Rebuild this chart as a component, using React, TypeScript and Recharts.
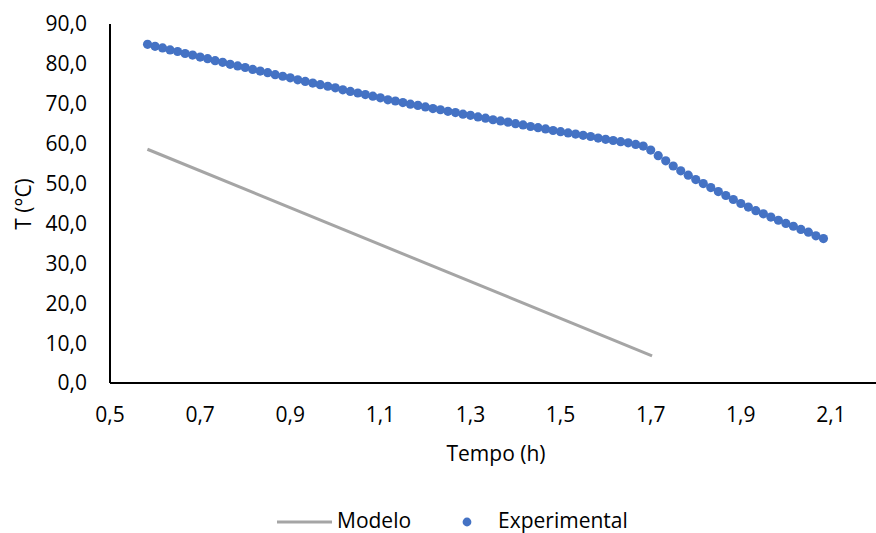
import React from 'react'
import { ScatterChart, Scatter, XAxis, YAxis } from 'recharts'

document.body.style.margin = '0'

// tempo experimental, em minutos (1 leitura por minuto)
const minutosExp = [
  35, 36, 37, 38, 39, 40, 41, 42, 43, 44, 45, 46, 47, 48, 49, 50, 51, 52, 53, 54,
  55, 56, 57, 58, 59, 60, 61, 62, 63, 64, 65, 66, 67, 68, 69, 70, 71, 72, 73, 74,
  75, 76, 77, 78, 79, 80, 81, 82, 83, 84, 85, 86, 87, 88, 89, 90, 91, 92, 93, 94,
  95, 96, 97, 98, 99, 100, 101, 102, 103, 104, 105, 106, 107, 108, 109, 110, 111,
  112, 113, 114, 115, 116, 117, 118, 119, 120, 121, 122, 123, 124, 125,
]

const tempExp = [
  84.9, 84.4, 84.0, 83.5, 83.1, 82.6, 82.2, 81.7, 81.3, 80.8, 80.4, 79.9, 79.5, 79.1, 78.6, 78.2, 77.8, 77.3, 76.9, 76.5,
  76.0, 75.6, 75.2, 74.8, 74.4, 74.0, 73.5, 73.1, 72.7, 72.3, 71.9, 71.5, 71.0, 70.7, 70.3, 69.9, 69.6, 69.2, 68.8, 68.5,
  68.1, 67.8, 67.4, 67.1, 66.7, 66.4, 66.0, 65.7, 65.4, 65.0, 64.7, 64.3, 64.0, 63.7, 63.3, 63.0, 62.7, 62.4, 62.1, 61.8,
  61.4, 61.1, 60.8, 60.5, 60.2, 59.8, 59.4, 58.4, 57.0, 55.7, 54.4, 53.2, 52.1, 51.0, 50.0, 49.0, 48.0,
  47.0, 46.0, 45.0, 44.1, 43.2, 42.4, 41.6, 40.8, 40.0, 39.3, 38.5, 37.8, 36.9, 36.2,
]

// modelo (reta)
const tempoModelo = [0.583, 1.703]
const tempModelo = [58.6, 6.8]

const xTicks = [0.5, 0.7, 0.9, 1.1, 1.3, 1.5, 1.7, 1.9, 2.1]
const yTicks = [0, 10, 20, 30, 40, 50, 60, 70, 80, 90]

const expData = minutosExp.map((m, i) => ({ t: m / 60, T: tempExp[i] }))
const modeloData = tempoModelo.map((t, i) => ({ t, T: tempModelo[i] }))

const FONT = '"Open Sans", sans-serif'
const tickStyle = { fill: '#000', fontSize: 21, fontFamily: FONT }
const virgula = (v: number) => v.toFixed(1).replace('.', ',')

const Dot = (props: any) => {
  const { cx, cy } = props
  if (cx == null || cy == null) return null
  return <circle cx={cx} cy={cy} r={4.6} fill="#4472C4" />
}

export default function App() {
  return (
    <div style={{ position: 'relative', width: 876, height: 533, background: '#fff' }}>
      <ScatterChart width={876} height={533} margin={{ top: 24, right: 0, bottom: 0, left: 0 }}>
        <XAxis
          type="number"
          dataKey="t"
          domain={[0.5, 2.2]}
          ticks={xTicks}
          tickFormatter={virgula}
          allowDataOverflow
          height={150}
          tickLine={false}
          tickSize={0}
          tickMargin={24}
          axisLine={{ stroke: '#000', strokeWidth: 2 }}
          tick={tickStyle}
          label={() => (
            <text x={496} y={461} textAnchor="middle" style={tickStyle}>
              Tempo (h)
            </text>
          )}
        />
        <YAxis
          type="number"
          dataKey="T"
          domain={[0, 90]}
          ticks={yTicks}
          tickFormatter={virgula}
          width={110}
          tickLine={false}
          tickSize={0}
          tickMargin={23}
          axisLine={{ stroke: '#000', strokeWidth: 2 }}
          tick={tickStyle}
          label={() => (
            <text
              x={23}
              y={204}
              transform="rotate(-90, 23, 204)"
              textAnchor="middle"
              dominantBaseline="central"
              style={tickStyle}
            >
              T (°C)
            </text>
          )}
        />
        <Scatter
          name="Modelo"
          data={modeloData}
          line={{ stroke: '#A5A5A5', strokeWidth: 3 }}
          lineType="joint"
          shape={() => null}
          isAnimationActive={false}
        />
        <Scatter name="Experimental" data={expData} shape={<Dot />} isAnimationActive={false} />
      </ScatterChart>
      <svg width={876} height={533} style={{ position: 'absolute', left: 0, top: 0, pointerEvents: 'none' }}>
        <line x1={277} y1={522} x2={332} y2={522} stroke="#A5A5A5" strokeWidth={3} />
        <text x={337} y={528} style={tickStyle}>Modelo</text>
        <circle cx={467} cy={522} r={4.4} fill="#4472C4" />
        <text x={498} y={528} style={tickStyle}>Experimental</text>
      </svg>
    </div>
  )
}
